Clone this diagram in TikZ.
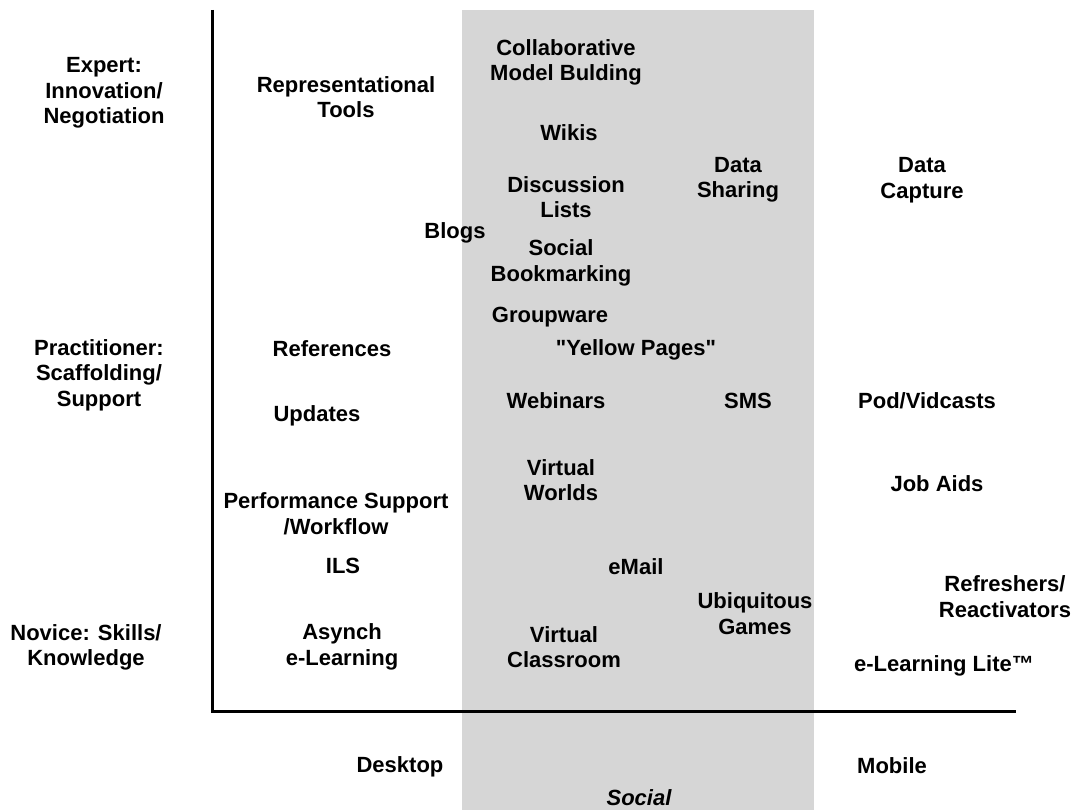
\documentclass[tikz,border=0pt]{standalone}
\usepackage{fontspec}
\setmainfont{Liberation Sans}
\newcommand\straightquote{\XeTeXglyph\XeTeXcharglyph"22\relax}
\definecolor{bandgray}{RGB}{214,214,214}
\begin{document}
\begin{tikzpicture}[x=1pt,y=-1pt,
  lbl/.style={font=\fontsize{22}{25.5}\selectfont\bfseries, align=center, inner sep=0pt, text=black, yshift=-2pt},
  axis/.style={line width=3pt, black, line join=miter}]
\useasboundingbox (0,0) rectangle (1075,810);
% social band
\fill[bandgray] (462,10) rectangle (814,810);
% axes
\coordinate (top) at (212,10);
\coordinate (origin) at (212,711);
\coordinate (right) at (1016,711);
\draw[axis] (top) -- (origin) -- (right);
% level labels
\node[lbl] (expert) at (104,91) {Expert:\\Innovation/\\Negotiation};
\node[lbl] (pract) at (99,373) {Practitioner:\\Scaffolding/\\Support};
\node[lbl] (novice) at (86,645.5) {Novice: Skills/\\Knowledge};
% items
\node[lbl] (rep) at (346,95) {Representational\\Tools};
\node[lbl] (collab) at (566,60.5) {Collaborative\\Model Bulding};
\node[lbl] (wikis) at (569,131) {Wikis};
\node[lbl] (dshare) at (738,178) {Data\\Sharing};
\node[lbl] (dcap) at (922,178) {Data\\Capture};
\node[lbl] (disc) at (566,195) {Discussion\\Lists};
\node[lbl] (blogs) at (455,231) {Blogs};
\node[lbl] (sbook) at (561,261) {Social\\Bookmarking};
\node[lbl] (group) at (550,315) {Groupware};
\node[lbl] (yellow) at (636,348) {\straightquote Yellow Pages\straightquote};
\node[lbl] (refs) at (332,347) {References};
\node[lbl] (upd) at (317,414) {Updates};
\node[lbl] (web) at (556,399) {Webinars};
\node[lbl] (sms) at (748,399) {SMS};
\node[lbl] (pod) at (927,399) {Pod/Vidcasts};
\node[lbl] (vworld) at (561,478) {Virtual\\Worlds};
\node[lbl] (jobaid) at (937,482) {Job Aids};
\node[lbl] (perf) at (336,511.5) {Performance Support\\/Workflow};
\node[lbl] (ils) at (343,564) {ILS};
\node[lbl] (email) at (636,565) {eMail};
\node[lbl] (ubiq) at (755,611.5) {Ubiquitous\\Games};
\node[lbl] (refr) at (1005,594.5) {Refreshers/\\Reactivators};
\node[lbl] (asynch) at (342,645) {Asynch\\e-Learning};
\node[lbl] (vclass) at (564,645) {Virtual\\Classroom};
\node[lbl] (elite) at (944,664) {e-Learning Lite™};
% axis categories
\node[lbl] (desk) at (400,765) {Desktop};
\node[lbl] (mobile) at (892,764) {Mobile};
\node[lbl, font=\fontsize{22}{25.5}\selectfont\bfseries\itshape] (social) at (639,796) {Social};
\end{tikzpicture}
\end{document}
